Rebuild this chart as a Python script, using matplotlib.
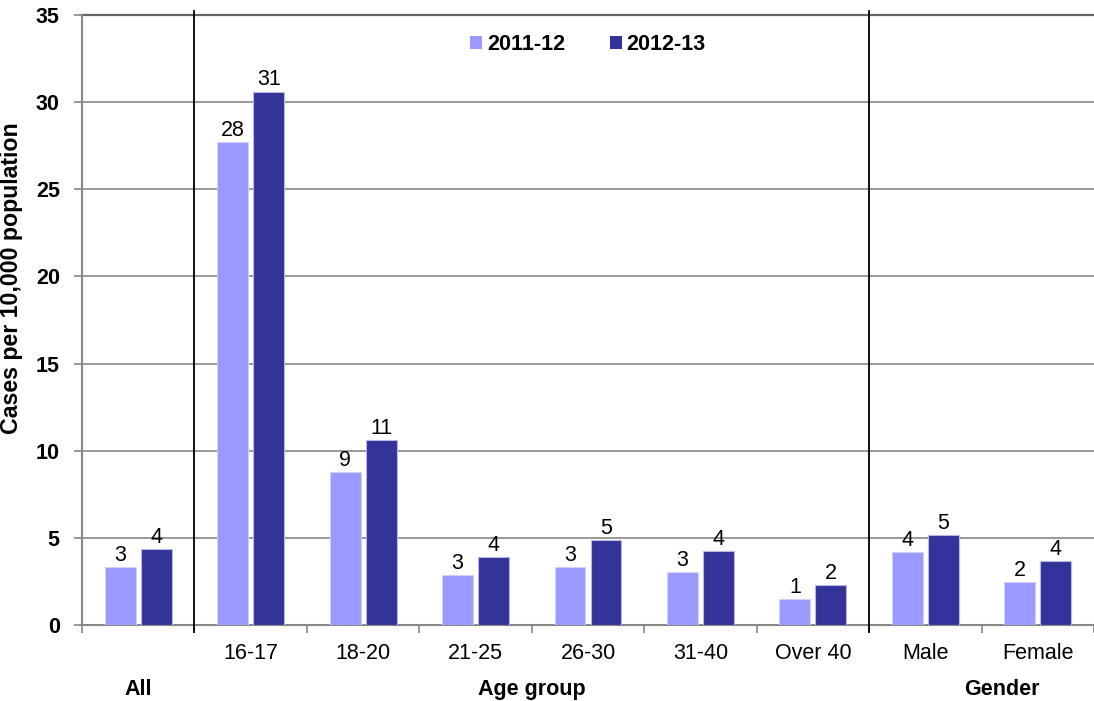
import matplotlib
matplotlib.use("Agg")
import matplotlib.pyplot as plt
import matplotlib.transforms as mtransforms
from matplotlib.patches import Patch
import numpy as np

plt.rcParams["font.family"] = ["Liberation Sans", "DejaVu Sans"]

# Data: cases per 10,000 population
categories = ["", "16-17", "18-20", "21-25", "26-30", "31-40", "Over 40", "Male", "Female"]
series_names = ["2011-12", "2012-13"]
rate_2011_12 = [3.33, 27.7, 8.78, 2.87, 3.33, 3.04, 1.49, 4.19, 2.45]
rate_2012_13 = [4.36, 30.6, 10.6, 3.90, 4.88, 4.25, 2.30, 5.16, 3.67]
group_names = ["All", "Age group", "Gender"]
group_centres = [0.0, 3.5, 7.68]
group_breaks = [0.5, 6.5]

light = "#9999FF"
dark = "#333399"
grid_col = "#888888"
fs = 15.5

fig = plt.figure(figsize=(10.94, 7.01), dpi=100)
ax = fig.add_axes([82 / 1094, 1 - 625 / 701, 1012 / 1094, 610 / 701])

x = np.arange(len(categories))
w = 0.275
off = 0.16
b1 = ax.bar(x - off, rate_2011_12, w, color=light, edgecolor="#d0d0ff", linewidth=0.8,
            label=series_names[0], zorder=3)
b2 = ax.bar(x + off, rate_2012_13, w, color=dark, edgecolor="#b8b8e8", linewidth=0.8,
            label=series_names[1], zorder=3)
for bars in (b1, b2):
    ax.bar_label(bars, fmt="%.0f", padding=1, fontsize=fs, color="black")

ax.set_xlim(-0.5, len(categories) - 0.5)
ax.set_ylim(0, 35)
ax.set_yticks(np.arange(0, 36, 5))
ax.yaxis.grid(True, color=grid_col, linewidth=1.2, zorder=0)
ax.set_axisbelow(True)

for side in ("right", "top"):
    ax.spines[side].set_visible(False)
for side in ("left", "bottom"):
    ax.spines[side].set_color(grid_col)
    ax.spines[side].set_linewidth(1.5)
ax.axhline(35, color="#666666", linewidth=1.6, zorder=1, clip_on=False)

# Category labels on majors, boundary tick marks on minors
ax.set_xticks(x)
ax.set_xticklabels(categories, fontsize=fs)
ax.set_xticks(np.arange(-0.5, len(categories), 1.0), minor=True)
ax.tick_params(axis="x", which="major", length=0, pad=13)
ax.tick_params(axis="x", which="minor", length=6, width=1.2, color=grid_col)
ax.tick_params(axis="y", length=6, width=1.2, color=grid_col, pad=10, labelsize=fs)
for lab in ax.get_yticklabels():
    lab.set_fontweight("bold")

# Group separators
for xb in group_breaks:
    ax.axvline(xb, ymin=-0.012, ymax=1.007, color="black", linewidth=1.3,
               clip_on=False, zorder=4)

# Group labels under the axis
trans = mtransforms.blended_transform_factory(ax.transData, ax.transAxes)
for name, cx in zip(group_names, group_centres):
    ax.text(cx, -0.105, name, transform=trans, ha="center", va="center",
            fontsize=fs, fontweight="bold")

ax.set_ylabel("Cases per 10,000 population", fontsize=16.7, fontweight="bold")
ax.yaxis.label.set_verticalalignment("center")
ax.yaxis.set_label_coords(-0.0692, 0.569)

handles = [Patch(facecolor=light, edgecolor="none"), Patch(facecolor=dark, edgecolor="none")]
leg = ax.legend(handles, series_names, loc="center", bbox_to_anchor=(0.5, 0.952), ncol=2,
                frameon=False, handlelength=0.56, handleheight=0.56, handletextpad=0.23,
                columnspacing=2.05, borderpad=0, prop={"size": fs, "weight": "bold"})

fig.savefig("out.png", dpi=100)
